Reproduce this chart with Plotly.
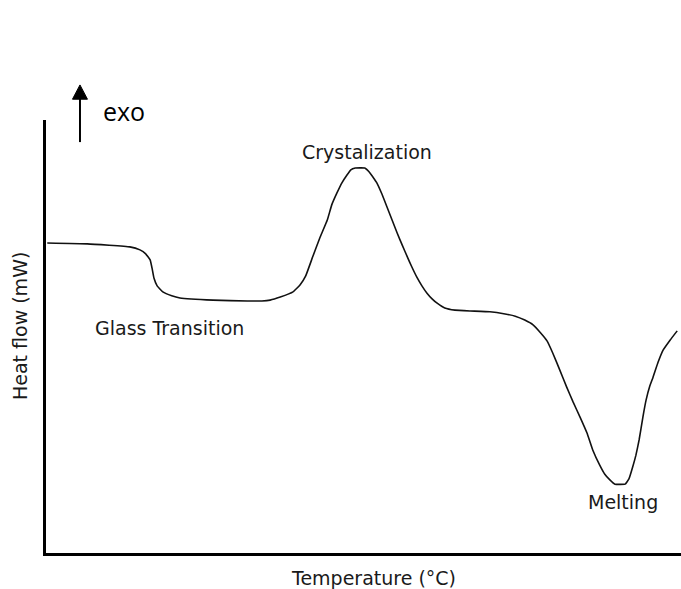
import plotly.graph_objects as go

# Temperature (arbitrary units, 0-100 across the axis) and heat flow (arbitrary units)
temperature = [0.2, 6.5, 13.2, 14.8, 15.7, 16.4, 16.7, 17.0, 17.5, 18.4, 19.8, 21.1, 26.3, 31.7,
               34.0, 35.3, 36.9, 38.9, 40.0, 40.9, 42.0, 43.1, 44.3, 45.0, 45.8, 46.6, 47.4, 48.0,
               48.7, 50.2, 50.9, 51.5, 52.1, 52.9, 53.7, 54.5, 55.3, 56.1, 56.9, 57.6, 58.4, 59.2,
               60.0, 60.8, 61.6, 62.8, 64.4, 66.8, 69.9, 72.3, 73.9, 75.4, 76.7, 77.8, 78.9, 79.8,
               80.9, 82.0, 83.0, 84.1, 85.2, 86.1, 87.2, 88.0, 88.8, 89.6, 91.2, 91.8, 92.4, 92.9,
               93.4, 94.0, 94.5, 95.1, 95.6, 96.4, 97.2, 98.3, 99.4]
heat_flow = [71.6, 71.4, 70.7, 70.0, 69.1, 67.7, 65.8, 63.5, 61.7, 60.3, 59.4, 58.9, 58.4, 58.2,
             58.2, 58.4, 59.1, 60.3, 61.9, 64.0, 68.4, 72.7, 76.9, 80.4, 83.1, 85.5, 87.3, 88.5,
             88.9, 88.9, 88.0, 86.8, 85.5, 82.9, 79.9, 76.9, 73.9, 71.1, 68.4, 66.1, 63.7, 61.7,
             60.0, 58.7, 57.7, 56.6, 56.1, 55.9, 55.7, 55.2, 54.7, 53.8, 52.7, 51.0, 49.0, 46.2,
             42.3, 38.3, 34.9, 31.4, 27.7, 23.8, 20.3, 18.2, 16.9, 15.9, 15.9, 17.1, 19.9, 22.6,
             26.1, 31.4, 35.3, 38.6, 40.6, 44.1, 46.9, 49.2, 51.3]

# Event labels and their positions (data units)
event_labels = ["Crystalization", "Glass Transition", "Melting"]
event_x = [50.6, 19.4, 90.9]
event_y = [92.6, 52.0, 11.8]

x_title = "Temperature (°C)"
y_title = "Heat flow (mW)"
direction_label = "exo"

LABEL_FONT = dict(family="DejaVu Sans", size=19, color="#1a1a1a")

fig = go.Figure()
fig.add_trace(go.Scatter(
    x=temperature, y=heat_flow, mode="lines",
    line=dict(color="#111111", width=1.6, shape="spline", smoothing=0.3),
    hoverinfo="skip", showlegend=False,
))

for txt, xv, yv in zip(event_labels, event_x, event_y):
    fig.add_annotation(x=xv, y=yv, xref="x", yref="y", text=txt, showarrow=False,
                       font=LABEL_FONT, xanchor="center", yanchor="middle")

# axis titles
fig.add_annotation(x=0.515, y=-0.0577, xref="paper", yref="paper", text=x_title,
                   showarrow=False, font=LABEL_FONT, xanchor="center", yanchor="middle")
fig.add_annotation(x=-0.041, y=0.524, xref="paper", yref="paper", text=y_title,
                   showarrow=False, font=LABEL_FONT, textangle=-90,
                   xanchor="center", yanchor="middle")

# exo arrow
fig.add_annotation(x=0.123, y=1.021, xref="paper", yref="paper", text=direction_label,
                   showarrow=False, font=dict(family="Open Sans", size=25, color="#000000"),
                   xanchor="center", yanchor="middle")
fig.add_shape(type="line", xref="paper", yref="paper", x0=0.0535, x1=0.0535, y0=0.949, y1=1.055,
              line=dict(color="black", width=2))
fig.add_shape(type="path", xref="paper", yref="paper",
              path="M 0.0417 1.048 L 0.0653 1.048 L 0.0535 1.081 Z",
              fillcolor="black", line=dict(color="black", width=1))

fig.update_xaxes(range=[0, 100], showline=True, linewidth=3, linecolor="black",
                 showgrid=False, zeroline=False, showticklabels=False, ticks="")
fig.update_yaxes(range=[0, 100], showline=True, linewidth=3, linecolor="black",
                 showgrid=False, zeroline=False, showticklabels=False, ticks="")

fig.update_layout(
    width=681, height=589,
    margin=dict(l=46, r=0, t=120, b=36),
    paper_bgcolor="white", plot_bgcolor="white",
)

fig.write_html("out.html", config={"displayModeBar": False},
               post_script="document.body.style.margin='0px';document.body.style.overflow='hidden';")
